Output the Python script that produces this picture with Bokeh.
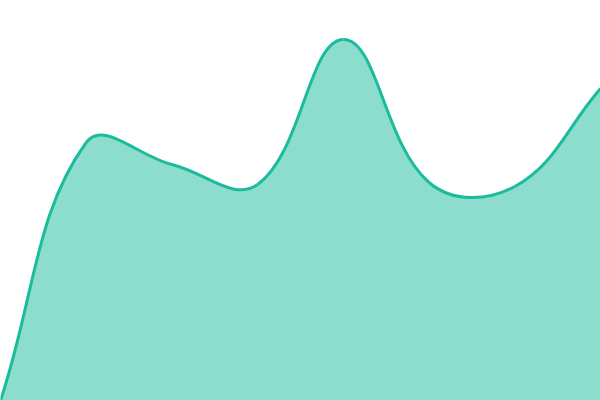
import numpy as np
from bokeh.plotting import figure
from bokeh.embed import file_html
from bokeh.resources import INLINE

# data: 8 evenly spaced points, value scale 0..100
labels = ["1", "2", "3", "4", "5", "6", "7", "8"]
values = [0, 64.5, 59, 54, 90.25, 54.5, 53.5, 78]

W, H = 600, 400
Y_MIN, Y_MAX = 0, 100
TENSION = 0.4
LINE = "#1abc9c"

n = len(values)
xs = list(range(n))
x_end = n - 1
sx = W / x_end
sy = H / (Y_MAX - Y_MIN)

# pixel coordinates (y upward) for Chart.js-like spline control points
P = [(x * sx, (v - Y_MIN) * sy) for x, v in zip(xs, values)]


def spline(prev, cur, nxt, t):
    d01 = np.hypot(cur[0] - prev[0], cur[1] - prev[1])
    d12 = np.hypot(nxt[0] - cur[0], nxt[1] - cur[1])
    s01 = d01 / (d01 + d12) if (d01 + d12) else 0
    s12 = d12 / (d01 + d12) if (d01 + d12) else 0
    fa, fb = t * s01, t * s12
    prev_cp = (cur[0] - fa * (nxt[0] - prev[0]), cur[1] - fa * (nxt[1] - prev[1]))
    next_cp = (cur[0] + fb * (nxt[0] - prev[0]), cur[1] + fb * (nxt[1] - prev[1]))
    return prev_cp, next_cp


cps = []
for i in range(n):
    prev = P[max(i - 1, 0)]
    nxt = P[min(i + 1, n - 1)]
    pc, nc = spline(prev, P[i], nxt, TENSION)
    # cap inside chart area
    pc = (min(max(pc[0], 0), W), min(max(pc[1], 0), H))
    nc = (min(max(nc[0], 0), W), min(max(nc[1], 0), H))
    cps.append((pc, nc))


def to_data(pt):
    return pt[0] / sx, pt[1] / sy + Y_MIN


x0, y0, x1, y1, cx0, cy0, cx1, cy1 = ([] for _ in range(8))
fill_x, fill_y = [], []
ts = np.linspace(0, 1, 60)
for i in range(n - 1):
    a = P[i]
    b = P[i + 1]
    c0 = cps[i][1]
    c1 = cps[i + 1][0]
    da, db, dc0, dc1 = to_data(a), to_data(b), to_data(c0), to_data(c1)
    x0.append(da[0]); y0.append(da[1])
    x1.append(db[0]); y1.append(db[1])
    cx0.append(dc0[0]); cy0.append(dc0[1])
    cx1.append(dc1[0]); cy1.append(dc1[1])
    for t in (ts if i == 0 else ts[1:]):
        u = 1 - t
        fill_x.append(u**3 * da[0] + 3 * u * u * t * dc0[0] + 3 * u * t * t * dc1[0] + t**3 * db[0])
        fill_y.append(u**3 * da[1] + 3 * u * u * t * dc0[1] + 3 * u * t * t * dc1[1] + t**3 * db[1])

p = figure(width=W, height=H, x_range=(0, x_end), y_range=(Y_MIN, Y_MAX),
           output_backend="svg", toolbar_location=None, min_border=0)
p.axis.visible = False
p.grid.visible = False
p.outline_line_color = None
p.background_fill_color = "white"
p.border_fill_color = "white"
p.styles = {"position": "absolute", "left": "0px", "top": "0px"}

p.varea(x=fill_x, y1=[Y_MIN] * len(fill_x), y2=fill_y, fill_color=LINE, fill_alpha=0.5)
p.bezier(x0=x0, y0=y0, x1=x1, y1=y1, cx0=cx0, cy0=cy0, cx1=cx1, cy1=cy1,
         line_color=LINE, line_width=3)

open("out.html", "w").write(file_html(p, INLINE))
